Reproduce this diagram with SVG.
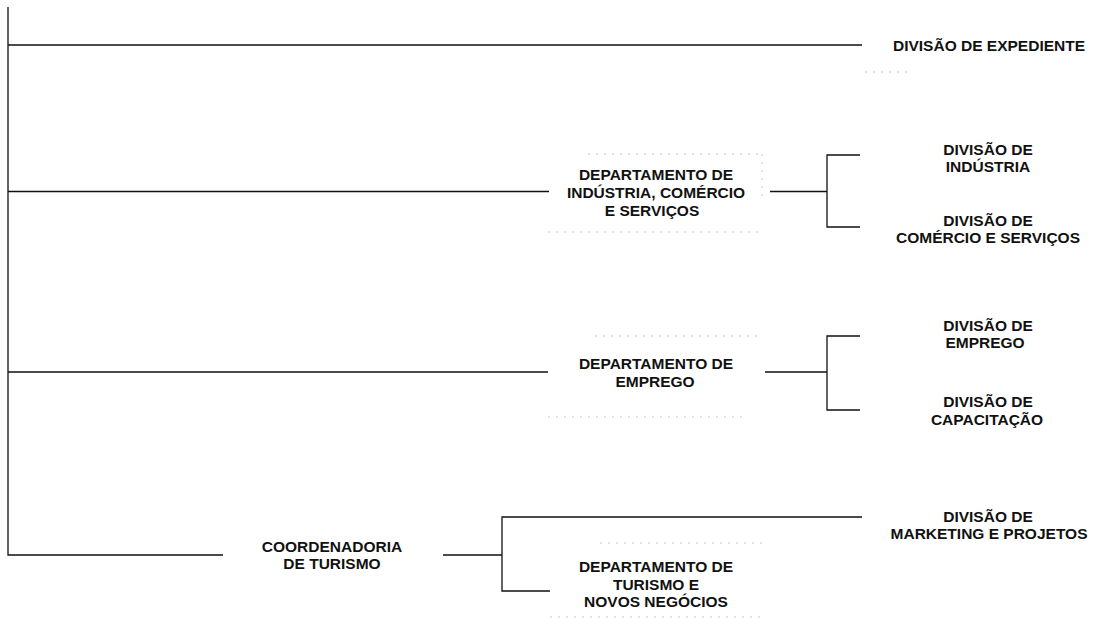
<svg xmlns="http://www.w3.org/2000/svg" width="1093" height="625" viewBox="0 0 1093 625">
<style>
.ln{stroke:#111;stroke-width:1.3;fill:none}
.gh{stroke:#9a9a9a;stroke-width:1;fill:none;stroke-dasharray:2 6;opacity:.55}
text{font-family:"Liberation Sans",Arial,sans-serif;font-size:15.5px;font-weight:bold;fill:#111;text-anchor:middle}
</style>
<rect width="1093" height="625" fill="#fff"/>
<g id="connectors">
<path class="ln" d="M8 7V555H223"/>
<path class="ln" d="M8 45H862"/>
<path class="ln" d="M8 191.5H549"/>
<path class="ln" d="M8 372H548"/>
<path class="ln" d="M770 191.5H827M860 155H827V227H860"/>
<path class="ln" d="M765 372H827M860 336H827V410H860"/>
<path class="ln" d="M443 555H502M862 517H502V591H550"/>
</g>
<g id="ghosts">
<path class="gh" d="M865 72H908"/>
<path class="gh" d="M588 154H760M762 154V200M548 232H760"/>
<path class="gh" d="M595 336H757M548 417H745"/>
<path class="gh" d="M600 543H765M550 617H765"/>
</g>
<g id="div-expediente"><text x="989" y="50.5">DIVISÃO DE EXPEDIENTE</text></g>
<g id="dept-industria"><text x="656" y="180">DEPARTAMENTO DE</text><text x="656" y="198">INDÚSTRIA, COMÉRCIO</text><text x="652" y="216">E SERVIÇOS</text></g>
<g id="div-industria"><text x="988" y="154.5">DIVISÃO DE</text><text x="988" y="171.5">INDÚSTRIA</text></g>
<g id="div-comercio"><text x="988" y="226">DIVISÃO DE</text><text x="988" y="243">COMÉRCIO E SERVIÇOS</text></g>
<g id="dept-emprego"><text x="656" y="368.5">DEPARTAMENTO DE</text><text x="655" y="387">EMPREGO</text></g>
<g id="div-emprego"><text x="988" y="330.5">DIVISÃO DE</text><text x="985" y="348">EMPREGO</text></g>
<g id="div-capacitacao"><text x="988" y="407">DIVISÃO DE</text><text x="987" y="424.5">CAPACITAÇÃO</text></g>
<g id="div-marketing"><text x="988" y="521.5">DIVISÃO DE</text><text x="989" y="538.5">MARKETING E PROJETOS</text></g>
<g id="coord-turismo"><text x="332" y="551.5">COORDENADORIA</text><text x="332" y="568.5">DE TURISMO</text></g>
<g id="dept-turismo"><text x="656" y="572">DEPARTAMENTO DE</text><text x="656" y="589.5">TURISMO E</text><text x="656" y="607">NOVOS NEGÓCIOS</text></g>
</svg>
